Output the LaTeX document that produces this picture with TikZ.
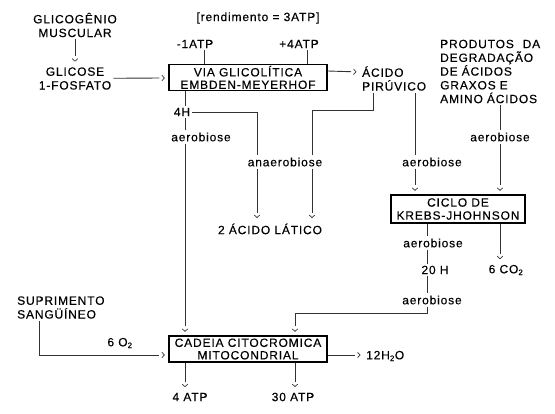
\documentclass[tikz,border=0pt]{standalone}
\usepackage{fontspec}
\setmainfont{Liberation Sans}[LetterSpace=7,FakeBold=0.3]
\usetikzlibrary{arrows.meta,calc}

\begin{document}
\begin{tikzpicture}[x=1pt,y=-1pt]
                      \tikzstyle{txt}=[inner sep=2pt,align=center,font=\fontsize{12}{13.75}\selectfont]
                      \tikzstyle{caixa}=[txt,draw,line width=1.3pt,minimum width=158pt,minimum height=26pt,inner sep=0pt,font=\fontsize{12}{12.5}\selectfont]
                      \tikzstyle{linha}=[line width=0.9pt,draw=black!80]
                      \tikzstyle{seta}=[linha,shorten >=9pt,postaction={draw,shorten >=3.5pt,dash pattern=on 0pt off 10000pt,-{Straight Barb[length=2.5pt,width=5.5pt,line width=0.7pt]}}]
                      \useasboundingbox (0,0) rectangle (555,414);
                      \node[txt] (gm) at (75,25) {GLICOGÊNIO\\MUSCULAR};
                      \node[txt] (gf) at (75,78.5) {GLICOSE\\1-FOSFATO};
                      \node[caixa] (vg) at (248,77.5) {VIA GLICOLÍTICA\\EMBDEN-MEYERHOF};
                      \node[txt] (rd) at (258,18) {[rendimento = 3ATP]};
                      \node[txt] (m1) at (195,44) {-1ATP};
                      \node[txt] (p4) at (299,44) {+4ATP};
                      \node[txt,align=left,anchor=west] (ap) at (360,78.5) {ÁCIDO\\PIRÚVICO};
                      \node[txt,align=left,anchor=west,text width=100pt] (pd) at (438,71.5) {PRODUTOS\hfill DA\\DEGRADAÇÃO\\DE ÁCIDOS\\GRAXOS E\\AMINO ÁCIDOS};
                      \node[txt] (h4) at (182,112) {4H};
                      \node[txt] (ae1) at (201,137) {aerobiose};
                      \node[txt] (an) at (285,162) {anaerobiose};
                      \node[txt] (al) at (270,229) {2 ÁCIDO LÁTICO};
                      \node[txt] (ae2) at (432,162) {aerobiose};
                      \node[txt] (ae3) at (500,137) {aerobiose};
                      \node[caixa,minimum width=134pt,minimum height=28pt,font=\fontsize{12}{13}\selectfont] (kr) at (458,209) {CICLO DE\\KREBS-JHOHNSON};
                      \node[txt] (ae4) at (433,243) {aerobiose};
                      \node[txt] (h20) at (435,270) {20 H};
                      \node[txt] (co) at (506,270) {6 CO\textsubscript{2}};
                      \node[txt] (ae5) at (432,300) {aerobiose};
                      \node[txt,align=left,anchor=west] (su) at (15,307.5) {SUPRIMENTO\\SANGÜÍNEO};
                      \node[txt] (o2) at (120,343) {6 O\textsubscript{2}};
                      \node[caixa] (cc) at (248,349) {CADEIA CITOCROMICA\\MITOCONDRIAL};
                      \node[txt,anchor=west] (ag) at (364,356) {12H\textsubscript{2}O};
                      \node[txt] (a4) at (190,397) {4 ATP};
                      \node[txt] (a30) at (293,397) {30 ATP};
                      \coordinate (x1) at (185,0);
                      \coordinate (x2) at (257,0);
                      \coordinate (x3) at (312,0);
                      \coordinate (x4) at (373,0);
                      \coordinate (x5) at (415,0);
                      \coordinate (x6) at (500,0);
                      \coordinate (x7) at (427,0);
                      \coordinate (x8) at (295,0);
                      \coordinate (x9) at (39,0);
                      \coordinate (y1) at (0,110);
                      \coordinate (y2) at (0,313);
                      \coordinate (y3) at (0,355);
                      \draw[seta] (gm) -- (gf);
                      \draw[seta] (gf) -- (vg);
                      \draw[linha] ([xshift=9pt]m1.south) -- ([xshift=9pt]m1.south |- vg.north);
                      \draw[linha] ([xshift=8pt]p4.south) -- ([xshift=8pt]p4.south |- vg.north);
                      \draw[seta] ([yshift=6.5pt]vg.east) -- ([yshift=6.5pt]ap.west);
                      \draw[linha] (x4 |- ap.south) -- (x4 |- y1) -- (x3 |- y1) -- (x3 |- an.north);
                      \draw[seta] (x3 |- an.south) -- (x3 |- al.north);
                      \draw[linha] (x1 |- vg.south) -- (x1 |- h4.north);
                      \draw[linha] (h4) -- (x2 |- h4) -- (x2 |- an.north);
                      \draw[seta] (x2 |- an.south) -- (x2 |- al.north);
                      \draw[linha] (x1 |- h4.south) -- (x1 |- ae1.north);
                      \draw[seta] (x1 |- ae1.south) -- (x1 |- cc.north);
                      \draw[linha] (x5 |- ap.south) -- (x5 |- ae2.north);
                      \draw[seta] (x5 |- ae2.south) -- (x5 |- kr.north);
                      \draw[linha] (x6 |- pd.south) -- (x6 |- ae3.north);
                      \draw[seta] (x6 |- ae3.south) -- (x6 |- kr.north);
                      \draw[linha] (x7 |- kr.south) -- (x7 |- ae4.north);
                      \draw[linha] (x7 |- ae4.south) -- (x7 |- h20.north);
                      \draw[linha] (x7 |- h20.south) -- (x7 |- ae5.north);
                      \draw[seta] (x7 |- ae5.south) -- (x7 |- y2) -- (x8 |- y2) -- (x8 |- cc.north);
                      \draw[seta] (x6 |- kr.south) -- (x6 |- co.north);
                      \draw[seta] (x9 |- su.south) -- (x9 |- y3) -- (cc.west |- y3);
                      \draw[seta] (cc.east |- y3) -- (ag.west |- y3);
                      \draw[seta] (x1 |- cc.south) -- (x1 |- a4.north);
                      \draw[seta] (x8 |- cc.south) -- (x8 |- a30.north);
\end{tikzpicture}
\end{document}
